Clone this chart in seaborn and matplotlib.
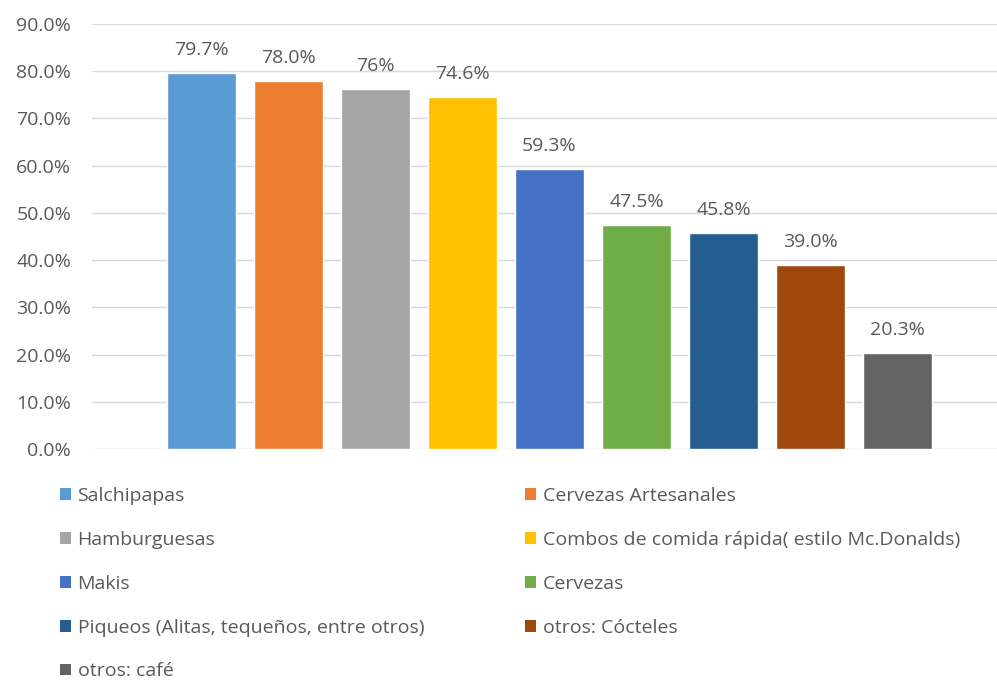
import matplotlib
matplotlib.use("Agg")
import matplotlib.pyplot as plt
import seaborn as sns
import pandas as pd
from matplotlib.patches import Patch
from matplotlib.ticker import FuncFormatter

categories = ["Salchipapas", "Cervezas Artesanales", "Hamburguesas",
              "Combos de comida rápida( estilo Mc.Donalds)", "Makis", "Cervezas",
              "Piqueos (Alitas, tequeños, entre otros)", "otros: Cócteles", "otros: café"]
values = [79.7, 78.0, 76.2, 74.6, 59.3, 47.5, 45.8, 39.0, 20.3]
value_labels = ["79.7%", "78.0%", "76%", "74.6%", "59.3%", "47.5%", "45.8%", "39.0%", "20.3%"]
colors = ["#5B9BD5", "#ED7D31", "#A5A5A5", "#FFC000", "#4472C4",
          "#70AD47", "#255E91", "#9E480E", "#636363"]
yticks = [0, 10, 20, 30, 40, 50, 60, 70, 80, 90]

sns.set_theme(style="white")
plt.rcParams['font.family'] = ['Open Sans', 'DejaVu Sans']
text_color = "#595959"
fs = 14

df = pd.DataFrame({"cat": categories, "val": values})

fig = plt.figure(figsize=(9.97, 6.86), dpi=100)
ax = fig.add_axes([92/997, 1 - 449/686, 1 - 92/997, (449 - 24)/686])

sns.barplot(data=df, x="cat", y="val", hue="cat", palette=colors,
            width=0.79, dodge=False, legend=False, ax=ax, saturation=1)

for cont, lab in zip(ax.containers, value_labels):
    ax.bar_label(cont, labels=[lab], padding=10, fontsize=fs, color=text_color)

ax.set_ylim(0, 90)
ax.set_xlim(-1.259, 9.144)
ax.set_yticks(yticks)
ax.yaxis.set_major_formatter(FuncFormatter(lambda v, p: f"{v:.1f}%"))
ax.tick_params(axis='y', labelsize=fs, labelcolor=text_color, length=0, pad=15)
ax.set_xticks([])
ax.set_xlabel("")
ax.set_ylabel("")
ax.grid(axis='y', color="#D9D9D9", linewidth=1)
ax.set_axisbelow(True)
for s in ax.spines.values():
    s.set_visible(False)

handles = [Patch(facecolor=c, edgecolor='none') for c in colors]
order = [0, 2, 4, 6, 8, 1, 3, 5, 7]
leg = fig.legend([handles[i] for i in order], [categories[i] for i in order],
                 ncol=2, loc="upper left", bbox_to_anchor=(60/997, 1 - 487/686),
                 frameon=False, fontsize=fs, handlelength=0.55, handleheight=0.55,
                 handletextpad=0.35, labelspacing=1.33, columnspacing=5.2,
                 borderaxespad=0, borderpad=0)
for t in leg.get_texts():
    t.set_color(text_color)

fig.savefig("out.png", dpi=100, facecolor="white")
